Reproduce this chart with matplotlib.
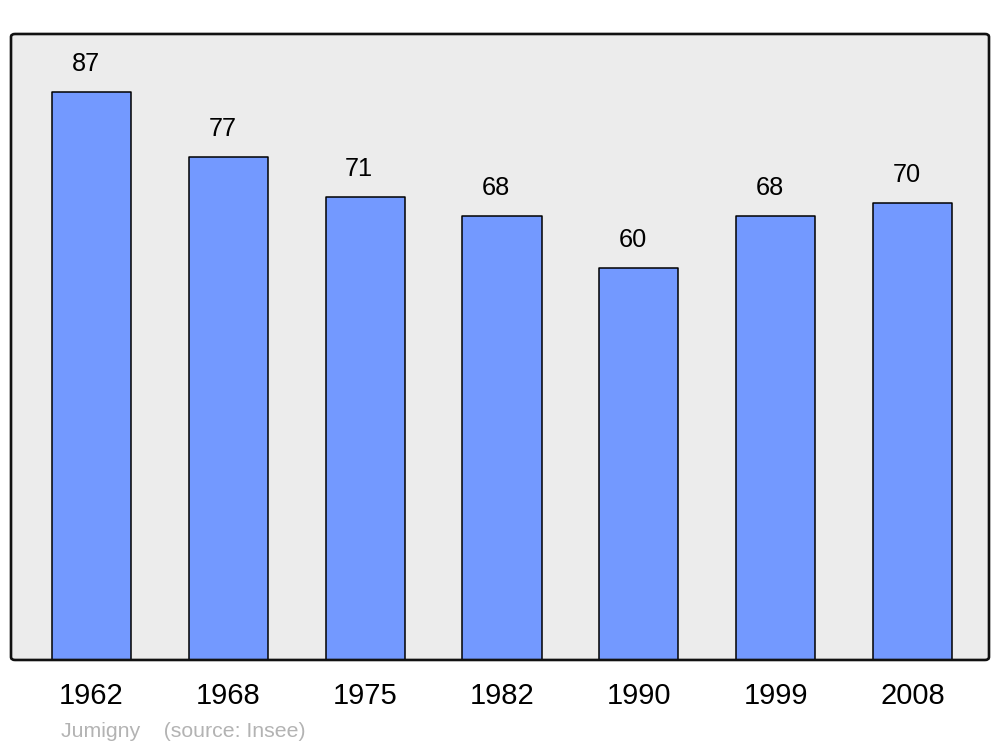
import matplotlib.pyplot as plt
from matplotlib.patches import FancyBboxPatch
import numpy as np

plt.rcParams['font.family'] = ['Liberation Sans', 'DejaVu Sans']

years = ['1962', '1968', '1975', '1982', '1990', '1999', '2008']
population = [87, 77, 71, 68, 60, 68, 70]
commune = 'Jumigny'
source = '(source: Insee)'

bar_color = '#7399ff'
bg_color = '#ececec'

fig = plt.figure(figsize=(10, 7.47), dpi=100)
ax = fig.add_axes([0.011, 0.1165, 0.978, 0.838])
ax.set_facecolor(bg_color)

x = np.arange(len(years))
ax.bar(x, population, width=0.578, color=bar_color, edgecolor='black',
       linewidth=1.1, joinstyle='round', zorder=2)

for xi, v in zip(x, population):
    ax.annotate(str(v), (xi, v), xytext=(-6, 28), textcoords='offset pixels',
                ha='center', va='center', fontsize=18.3)

ax.set_xlim(-0.588, len(years) - 1 + 0.559)
ax.set_ylim(0, 95.9)
ax.set_xticks(x)
ax.set_xticklabels(years, fontsize=21)
ax.tick_params(axis='x', length=0, pad=16)
ax.set_yticks([])
for s in ax.spines.values():
    s.set_visible(False)

# rounded frame around the plot area
frame = FancyBboxPatch((0.011, 0.1165), 0.978, 0.838,
                       boxstyle='round,pad=0,rounding_size=0.004',
                       transform=fig.transFigure, fill=False,
                       edgecolor='#111111', linewidth=1.9, zorder=5)
fig.patches.append(frame)

fig.text(0.061, 0.021, commune + '    ' + source, color='#b3b3b3',
         fontsize=15.3, ha='left', va='center')

fig.savefig('out.png', dpi=100, facecolor='white')
